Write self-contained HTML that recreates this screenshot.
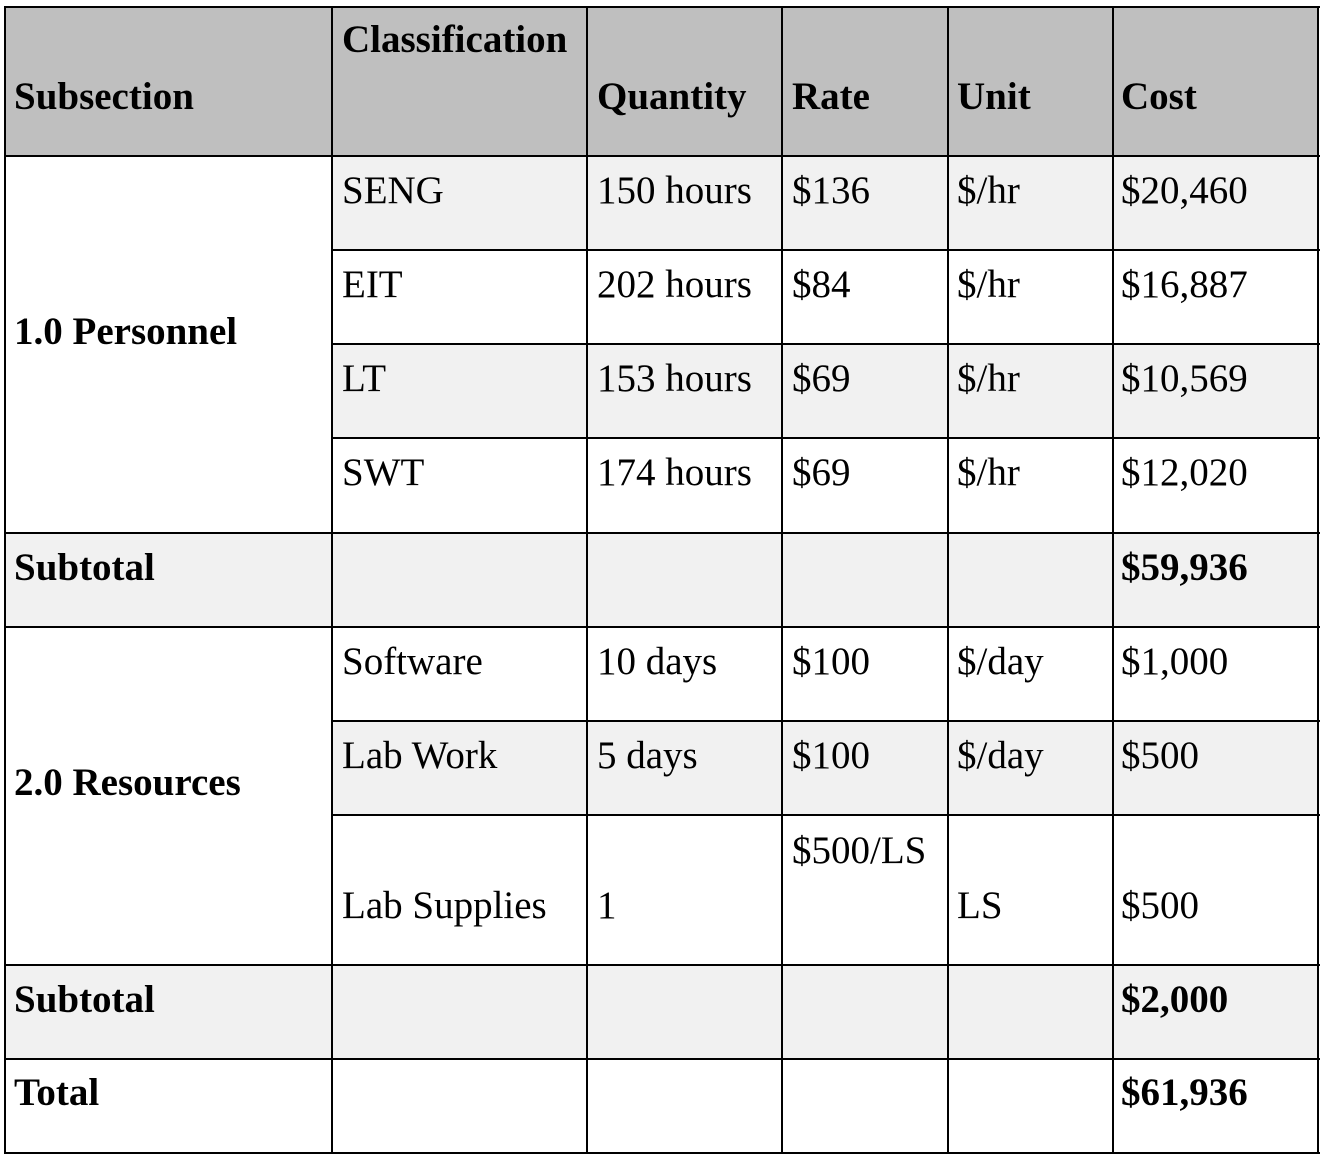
<!DOCTYPE html>
<html><head><meta charset="utf-8"><style>
html,body{margin:0;padding:0;background:#fff;}
body{width:1325px;height:1158px;position:relative;overflow:hidden;font-family:"Liberation Serif",serif;font-size:39px;color:#000;}
.bg{position:absolute;}
.h{position:absolute;height:2px;background:#000;}
.v{position:absolute;width:2px;background:#000;}
.t{position:absolute;line-height:44px;white-space:nowrap;}
.b{font-weight:bold;}
</style></head><body>
<!-- backgrounds -->
<div class="bg" style="left:5px;top:7px;width:1313px;height:149px;background:#bfbfbf"></div>
<div class="bg" style="left:332px;top:156px;width:986px;height:94px;background:#f1f1f1"></div>
<div class="bg" style="left:332px;top:344px;width:986px;height:94px;background:#f1f1f1"></div>
<div class="bg" style="left:5px;top:532px;width:1313px;height:95px;background:#f1f1f1"></div>
<div class="bg" style="left:332px;top:721px;width:986px;height:94px;background:#f1f1f1"></div>
<div class="bg" style="left:5px;top:965px;width:1313px;height:94px;background:#f1f1f1"></div>
<!-- horizontal lines -->
<div class="h" style="left:4px;top:6px;width:1316px"></div>
<div class="h" style="left:4px;top:155px;width:1316px"></div>
<div class="h" style="left:332px;top:249px;width:988px"></div>
<div class="h" style="left:332px;top:343px;width:988px"></div>
<div class="h" style="left:332px;top:437px;width:988px"></div>
<div class="h" style="left:4px;top:532px;width:1316px"></div>
<div class="h" style="left:4px;top:626px;width:1316px"></div>
<div class="h" style="left:332px;top:720px;width:988px"></div>
<div class="h" style="left:332px;top:814px;width:988px"></div>
<div class="h" style="left:4px;top:964px;width:1316px"></div>
<div class="h" style="left:4px;top:1058px;width:1316px"></div>
<div class="h" style="left:4px;top:1152px;width:1316px"></div>
<!-- vertical lines -->
<div class="v" style="left:4px;top:6px;height:1148px"></div>
<div class="v" style="left:331px;top:6px;height:1148px"></div>
<div class="v" style="left:586px;top:6px;height:1148px"></div>
<div class="v" style="left:781px;top:6px;height:1148px"></div>
<div class="v" style="left:947px;top:6px;height:1148px"></div>
<div class="v" style="left:1112px;top:6px;height:1148px"></div>
<div class="v" style="left:1317px;top:6px;height:1148px"></div>
<!-- header -->
<div class="t b" style="left:14px;top:75px">Subsection</div>
<div class="t b" style="left:342px;top:18px">Classification</div>
<div class="t b" style="left:597px;top:75px">Quantity</div>
<div class="t b" style="left:792px;top:75px">Rate</div>
<div class="t b" style="left:957px;top:75px">Unit</div>
<div class="t b" style="left:1121px;top:75px">Cost</div>
<!-- personnel -->
<div class="t b" style="left:14px;top:310px">1.0 Personnel</div>
<div class="t" style="left:342px;top:169px">SENG</div><div class="t" style="left:597px;top:169px">150 hours</div><div class="t" style="left:792px;top:169px">$136</div><div class="t" style="left:957px;top:169px">$/hr</div><div class="t" style="left:1121px;top:169px">$20,460</div>
<div class="t" style="left:342px;top:263px">EIT</div><div class="t" style="left:597px;top:263px">202 hours</div><div class="t" style="left:792px;top:263px">$84</div><div class="t" style="left:957px;top:263px">$/hr</div><div class="t" style="left:1121px;top:263px">$16,887</div>
<div class="t" style="left:342px;top:357px">LT</div><div class="t" style="left:597px;top:357px">153 hours</div><div class="t" style="left:792px;top:357px">$69</div><div class="t" style="left:957px;top:357px">$/hr</div><div class="t" style="left:1121px;top:357px">$10,569</div>
<div class="t" style="left:342px;top:451px">SWT</div><div class="t" style="left:597px;top:451px">174 hours</div><div class="t" style="left:792px;top:451px">$69</div><div class="t" style="left:957px;top:451px">$/hr</div><div class="t" style="left:1121px;top:451px">$12,020</div>
<div class="t b" style="left:14px;top:546px">Subtotal</div><div class="t b" style="left:1121px;top:546px">$59,936</div>
<!-- resources -->
<div class="t b" style="left:14px;top:761px">2.0 Resources</div>
<div class="t" style="left:342px;top:640px">Software</div><div class="t" style="left:597px;top:640px">10 days</div><div class="t" style="left:792px;top:640px">$100</div><div class="t" style="left:957px;top:640px">$/day</div><div class="t" style="left:1121px;top:640px">$1,000</div>
<div class="t" style="left:342px;top:734px">Lab Work</div><div class="t" style="left:597px;top:734px">5 days</div><div class="t" style="left:792px;top:734px">$100</div><div class="t" style="left:957px;top:734px">$/day</div><div class="t" style="left:1121px;top:734px">$500</div>
<div class="t" style="left:342px;top:884px">Lab Supplies</div><div class="t" style="left:597px;top:884px">1</div><div class="t" style="left:792px;top:829px">$500/LS</div><div class="t" style="left:957px;top:884px">LS</div><div class="t" style="left:1121px;top:884px">$500</div>
<div class="t b" style="left:14px;top:978px">Subtotal</div><div class="t b" style="left:1121px;top:978px">$2,000</div>
<div class="t b" style="left:14px;top:1071px">Total</div><div class="t b" style="left:1121px;top:1071px">$61,936</div>
</body></html>
